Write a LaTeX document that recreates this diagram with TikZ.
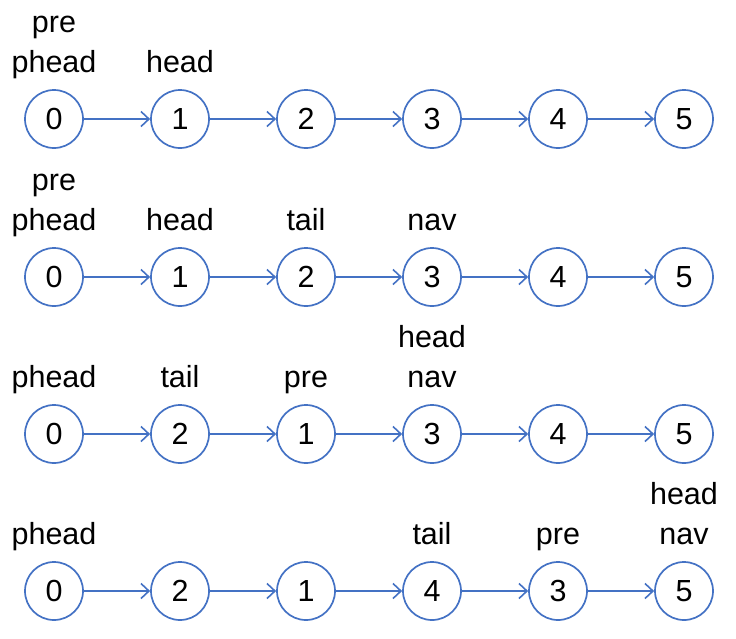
\documentclass[tikz,border=0pt]{standalone}
\usepackage{fontspec}
\setmainfont{Liberation Sans}
\usetikzlibrary{arrows.meta, positioning}
\definecolor{linkblue}{RGB}{68,114,196}

\begin{document}
\begin{tikzpicture}[x=1pt, y=-1pt,
    elem/.style={draw=linkblue, circle, line width=1.7pt, minimum size=58pt, inner sep=0pt, font=\fontsize{30.5}{36}\selectfont},
    link/.style={-{Straight Barb[length=8pt, width=15pt]}, line width=1.6pt, linkblue},
    tag/.style={inner sep=0pt, text height=22pt, text depth=6pt, font=\fontsize{30.5}{36}\selectfont}]
    \useasboundingbox (0,0) rectangle (736,638);
    % four rows of the list
    \foreach \r/\y/\vals in {1/119/{0,1,2,3,4,5}, 2/277/{0,1,2,3,4,5}, 3/434/{0,2,1,3,4,5}, 4/591/{0,2,1,4,3,5}}{
        \foreach \v [count=\k] in \vals
            \node[elem] (n\r\k) at ({54+126*(\k-1)}, \y) {\v};
        \foreach \k [evaluate=\k as \m using int(\k+1)] in {1,...,5}
            \draw[link] (n\r\k) -- (n\r\m);
    }
    % pointer names
    \node[tag, above=10pt of n11] (phead1) {phead};
    \node[tag, above=12pt of phead1] (pre1) {pre};
    \node[tag, above=10pt of n12] (head1) {head};
    \node[tag, above=10pt of n21] (phead2) {phead};
    \node[tag, above=12pt of phead2] (pre2) {pre};
    \node[tag, above=10pt of n22] (head2) {head};
    \node[tag, above=10pt of n23] (tail2) {tail};
    \node[tag, above=10pt of n24] (nav2) {nav};
    \node[tag, above=10pt of n31] (phead3) {phead};
    \node[tag, above=10pt of n32] (tail3) {tail};
    \node[tag, above=10pt of n33] (pre3) {pre};
    \node[tag, above=10pt of n34] (nav3) {nav};
    \node[tag, above=12pt of nav3] (head3) {head};
    \node[tag, above=10pt of n41] (phead4) {phead};
    \node[tag, above=10pt of n44] (tail4) {tail};
    \node[tag, above=10pt of n45] (pre4) {pre};
    \node[tag, above=10pt of n46] (nav4) {nav};
    \node[tag, above=12pt of nav4] (head4) {head};
\end{tikzpicture}
\end{document}
